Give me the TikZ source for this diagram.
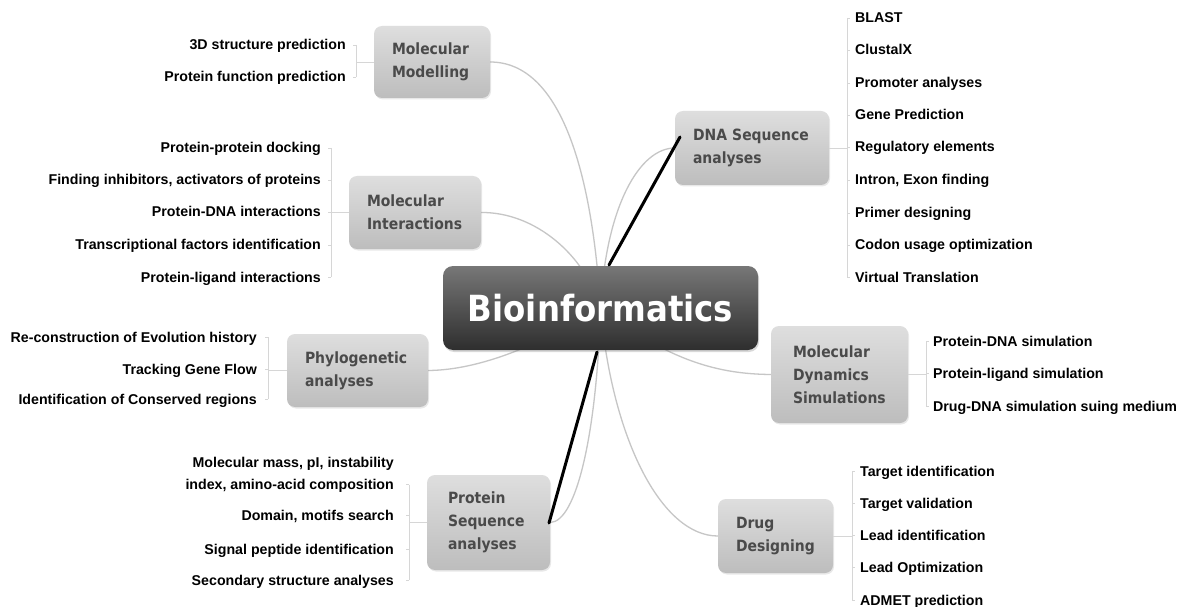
\documentclass[tikz,border=0pt]{standalone}
\usepackage{fontspec}
\setmainfont{Liberation Sans}
\newfontfamily\boxfont{DejaVu Sans}[FakeStretch=0.9]
\usetikzlibrary{shadows}
\pgfdeclarelayer{bg}
\pgfsetlayers{bg,main}
\definecolor{curvegray}{HTML}{C6C6C6}
\definecolor{brgray}{HTML}{D6D6D6}
\definecolor{boxtop}{HTML}{DEDEDE}
\definecolor{boxbot}{HTML}{BDBDBD}
\definecolor{boxtext}{HTML}{4A4A4A}
\definecolor{ctop}{HTML}{777777}
\definecolor{cbot}{HTML}{2E2E2E}
\begin{document}
\begin{tikzpicture}[x=1pt,y=-1pt,
  box/.style={rounded corners=8pt, top color=boxtop, bottom color=boxbot, draw=none,
    align=left, inner xsep=18pt, inner ysep=0pt, text=boxtext,
    font=\boxfont\bfseries\fontsize{15.5}{23}\selectfont,
    drop shadow={opacity=0.18, shadow xshift=1pt, shadow yshift=-1.5pt}},
  centerbox/.style={rounded corners=10pt, top color=ctop, bottom color=cbot, draw=none,
    minimum width=315pt, minimum height=84pt, text=white, inner sep=0pt,
    font=\boxfont\bfseries\fontsize{36}{40}\selectfont,
    drop shadow={opacity=0.3, shadow xshift=1pt, shadow yshift=-2pt}},
  lleaf/.style={anchor=east, inner sep=0pt, align=right, text height=10pt, text depth=0pt,
    font=\bfseries\fontsize{14.2}{22}\selectfont},
  rleaf/.style={anchor=west, inner sep=0pt, align=left, text height=10pt, text depth=0pt,
    font=\bfseries\fontsize{14.2}{22}\selectfont},
  curve/.style={draw=curvegray, line width=1.3pt},
  br/.style={draw=brgray, line width=0.9pt},
  blackline/.style={draw=black, line width=3pt, line cap=round}]

\begin{pgfonlayer}{bg}
\fill[white] (0,0) rectangle (1179,607);
\end{pgfonlayer}
\useasboundingbox (0,0) rectangle (1179,607);

% central node
\node[centerbox] (c) at (600.5,308) {Bioinformatics};

% branch boxes
\node[box, text width=80pt, minimum height=72pt] (mm) at (432,62) {Molecular\\Modelling};
\node[box, text width=96pt, minimum height=73pt] (mi) at (415,212.5) {Molecular\\Interactions};
\node[box, text width=118pt, minimum height=74pt] (dna) at (752,148) {DNA Sequence\\analyses};
\node[box, text width=105pt, minimum height=73pt] (ph) at (357.5,370.5) {Phylogenetic\\analyses};
\node[box, minimum height=95pt, inner xsep=21pt, text width=81pt] (ps) at (488.5,522.5) {Protein\\Sequence\\analyses};
\node[box, text width=93pt, minimum height=97pt, inner xsep=22pt] (md) at (839.5,374.5) {Molecular\\Dynamics\\Simulations};
\node[box, text width=79pt, minimum height=74pt] (dd) at (775.5,536) {Drug\\Designing};

% leaves: Molecular Modelling
\node[lleaf] (mm1) at (346,45) {3D structure prediction};
\node[lleaf] (mm2) at (346,77) {Protein function prediction};
% Molecular Interactions
\node[lleaf] (mi1) at (321,148) {Protein-protein docking};
\node[lleaf] (mi2) at (321,180) {Finding inhibitors, activators of proteins};
\node[lleaf] (mi3) at (321,212) {Protein-DNA interactions};
\node[lleaf] (mi4) at (321,245) {Transcriptional factors identification};
\node[lleaf] (mi5) at (321,277) {Protein-ligand interactions};
% Phylogenetic
\node[lleaf] (ph1) at (257,337) {Re-construction of Evolution history};
\node[lleaf] (ph2) at (257,369) {Tracking Gene Flow};
\node[lleaf] (ph3) at (257,399) {Identification of Conserved regions};
% Protein Sequence
\node[lleaf, anchor=south east] (ps1) at (394,490) {Molecular mass, pI, instability\\index, amino-acid composition};
\node[lleaf] (ps2) at (394,515) {Domain, motifs search};
\node[lleaf] (ps3) at (394,549) {Signal peptide identification};
\node[lleaf] (ps4) at (394,580) {Secondary structure analyses};
% DNA Sequence
\node[rleaf] (dna1) at (855,18) {BLAST};
\node[rleaf] (dna2) at (855,50) {ClustalX};
\node[rleaf] (dna3) at (855,83) {Promoter analyses};
\node[rleaf] (dna4) at (855,115) {Gene Prediction};
\node[rleaf] (dna5) at (855,147) {Regulatory elements};
\node[rleaf] (dna6) at (855,180) {Intron, Exon finding};
\node[rleaf] (dna7) at (855,213) {Primer designing};
\node[rleaf] (dna8) at (855,245) {Codon usage optimization};
\node[rleaf] (dna9) at (855,277) {Virtual Translation};
% Molecular Dynamics
\node[rleaf] (md1) at (933,341) {Protein-DNA simulation};
\node[rleaf] (md2) at (933,373) {Protein-ligand simulation};
\node[rleaf] (md3) at (933,406) {Drug-DNA simulation suing medium};
% Drug Designing
\node[rleaf] (dd1) at (860,471) {Target identification};
\node[rleaf] (dd2) at (860,503) {Target validation};
\node[rleaf] (dd3) at (860,535) {Lead identification};
\node[rleaf] (dd4) at (860,567) {Lead Optimization};
\node[rleaf] (dd5) at (860,600) {ADMET prediction};

% curves to the centre (behind)
\begin{pgfonlayer}{bg}
\draw[curve] (mm.east) .. controls (560,62) and (592,170) .. (c.center);
\draw[curve] (mi.east) .. controls (535,212) and (585,255) .. (c.center);
\draw[curve] (dna.west) .. controls (640,148) and (606,205) .. (c.center);
\draw[curve] (ph.east) .. controls (480,370) and (540,345) .. (c.center);
\draw[curve] (ps.east) .. controls (577,522) and (597,430) .. (c.center);
\draw[curve] (md.west) .. controls (720,374) and (670,362) .. (c.center);
\draw[curve] (dd.west) .. controls (662,536) and (612,440) .. (c.center);
\end{pgfonlayer}

% brackets, left side
\draw[br] (mm.west) -- ++(-18,0);
\draw[br] ([xshift=10pt]mm1.east) -- ([xshift=10pt]mm2.east);
\foreach \n in {mm1,mm2} \draw[br] ([xshift=10pt]\n.east) -- ([xshift=7pt]\n.east);
\draw[br] (mi.west) -- ++(-18,0);
\draw[br] ([xshift=10pt]mi1.east) -- ([xshift=10pt]mi5.east);
\foreach \n in {mi1,mi2,mi3,mi4,mi5} \draw[br] ([xshift=10pt]\n.east) -- ([xshift=7pt]\n.east);
\draw[br] (ph.west) -- ++(-19,0);
\draw[br] ([xshift=11pt]ph1.east) -- ([xshift=11pt]ph3.east);
\foreach \n in {ph1,ph2,ph3} \draw[br] ([xshift=11pt]\n.east) -- ([xshift=8pt]\n.east);
\draw[br] (ps.west) -- ++(-18,0);
\draw[br] ([xshift=15pt]ps1.east) -- ([xshift=15pt]ps4.east);
\foreach \n in {ps1,ps2,ps3,ps4} \draw[br] ([xshift=15pt]\n.east) -- ([xshift=12pt]\n.east);
% brackets, right side
\draw[br] (dna.east) -- ++(18,0);
\draw[br] ([xshift=-8pt]dna1.west) -- ([xshift=-8pt]dna9.west);
\foreach \n in {dna1,dna2,dna3,dna4,dna5,dna6,dna7,dna8,dna9} \draw[br] ([xshift=-8pt]\n.west) -- ([xshift=-5pt]\n.west);
\draw[br] (md.east) -- ++(18,0);
\draw[br] ([xshift=-7pt]md1.west) -- ([xshift=-7pt]md3.west);
\foreach \n in {md1,md2,md3} \draw[br] ([xshift=-7pt]\n.west) -- ([xshift=-4pt]\n.west);
\draw[br] (dd.east) -- ++(19,0);
\draw[br] ([xshift=-8pt]dd1.west) -- ([xshift=-8pt]dd5.west);
\foreach \n in {dd1,dd2,dd3,dd4,dd5} \draw[br] ([xshift=-8pt]\n.west) -- ([xshift=-5pt]\n.west);

% thick black strokes
\coordinate (k1) at (680,137);
\coordinate (k2) at (609,265);
\coordinate (k3) at (597,352);
\coordinate (k4) at (549,523);
\draw[blackline] (k1) -- (k2);
\draw[blackline] (k3) -- (k4);
\end{tikzpicture}
\end{document}
